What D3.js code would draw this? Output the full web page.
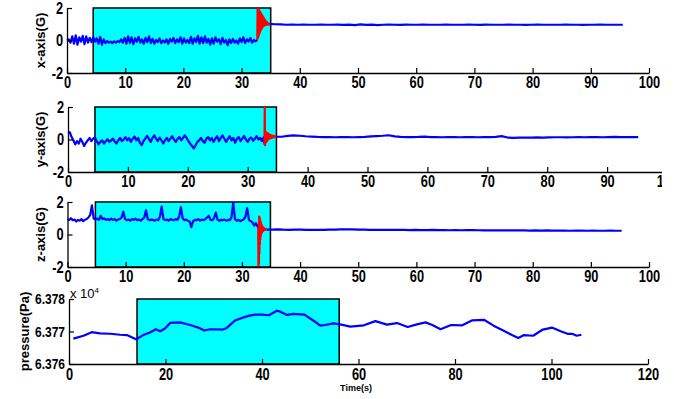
<!DOCTYPE html>
<html>
<head>
<meta charset="utf-8">
<script src="https://cdn.jsdelivr.net/npm/d3@7"></script>
<style>
  body { margin: 0; background: #fff; }
  svg { display: block; font-family: "Liberation Sans", Arial, sans-serif; font-weight: bold; }
</style>
</head>
<body>
<div id="chart"></div>
<script>
  // ---- data ----
  // accelerometer noise, sampled every 0.3 s from t = 0
  var noiseStep = 0.3;
  var xNoise = [
    0.00,0.07,-0.13,0.26,-0.20,0.32,-0.26,0.20,-0.07,0.29,
    -0.23,0.26,-0.13,0.16,-0.10,0.20,-0.07,0.13,-0.20,0.23,
    -0.26,0.07,-0.16,-0.03,-0.13,-0.07,-0.16,-0.05,-0.13,-0.04,
    -0.10,0.07,-0.13,0.16,-0.20,0.26,-0.16,0.20,-0.23,0.13,
    -0.07,0.23,-0.13,0.07,-0.20,0.16,-0.10,0.26,-0.16,0.10,
    -0.20,0.03,-0.10,0.13,-0.16,0.00,-0.13,0.07,-0.20,0.10,
    -0.07,0.16,-0.16,0.07,-0.10,0.20,-0.20,0.13,-0.13,0.03,
    -0.16,0.23,-0.20,0.13,-0.10,0.29,-0.20,0.20,-0.16,0.26,
    -0.13,0.10,-0.26,0.13,-0.20,0.20,-0.07,0.07,-0.23,0.16,
    -0.13,0.03,-0.29,0.07,-0.16,0.10,-0.13,0.00,-0.20,0.13,
    -0.10,0.20,-0.16,0.07,-0.07,0.16,-0.13,0.03,-0.05
  ];
  var yNoise = [
    0.40,0.45,0.15,-0.05,-0.30,-0.10,-0.25,0.05,-0.15,-0.40,
    -0.20,-0.05,0.10,-0.10,0.05,0.12,-0.10,-0.30,-0.15,-0.05,
    -0.25,-0.10,0.02,-0.15,-0.05,0.05,-0.12,-0.25,-0.05,0.10,
    -0.10,0.00,0.15,-0.05,0.08,-0.15,0.05,0.18,-0.05,0.10,
    -0.20,-0.35,-0.10,0.05,0.22,0.05,-0.15,0.10,0.25,0.05,
    -0.10,0.12,-0.05,-0.25,-0.05,0.10,-0.10,0.05,0.20,0.00,
    -0.15,0.05,0.15,-0.05,0.10,0.25,0.10,-0.10,-0.25,-0.40,
    -0.55,-0.35,-0.15,-0.05,0.10,-0.10,-0.20,0.05,0.15,-0.05,
    0.10,-0.15,0.05,0.20,-0.10,0.10,0.25,0.05,-0.15,0.05,
    0.20,-0.05,0.10,-0.20,0.05,0.15,-0.10,0.05,0.22,0.00,
    -0.15,0.05,0.12,-0.08,0.05,0.20,0.00,0.10,-0.10,0.15
  ];
  var zNoise = [
    0.95,0.90,1.00,0.88,0.92,0.80,0.90,0.85,0.95,0.82,
    0.90,0.95,1.05,1.20,1.80,1.00,0.92,0.98,0.90,1.15,
    0.95,1.00,0.90,0.95,0.88,0.98,0.90,0.95,0.85,0.92,
    0.95,1.05,1.40,0.95,0.88,0.92,0.85,0.95,0.90,0.98,
    0.88,0.92,0.85,0.95,1.05,1.50,0.95,0.88,0.92,0.90,
    0.85,0.92,0.88,1.10,1.72,0.95,0.88,0.92,0.85,0.95,
    0.90,0.88,0.95,0.90,1.10,1.68,1.00,0.88,0.92,0.85,
    0.80,0.45,0.82,0.90,0.88,0.95,0.85,0.92,0.88,0.95,
    1.05,1.15,0.90,0.88,1.00,1.35,0.92,0.85,0.90,0.88,
    0.92,0.85,0.90,0.88,1.05,1.95,0.95,0.85,0.90,0.82,
    0.88,0.92,1.10,1.62,0.90,0.82,0.75,0.55,0.70,0.50
  ];

  // the red burst (event), its own start and sample step
  var xBurstStart = 32.7, xBurstStep = 0.05;
  var xBurst = [0.05,1.95,0.15,1.92,0.25,1.88,0.35,1.83,0.45,1.78,0.55,1.72,0.63,1.66,0.70,1.60,0.76,1.54,0.82,1.48,
    0.87,1.42,0.90,1.36,0.92,1.30,0.94,1.25,0.95,1.20,0.96,1.16,0.97,1.12,0.97,1.09,0.98,1.06,0.98,1.04,
    0.99,1.02];
  var yBurstStart = 32.8, yBurstStep = 0.05;
  var yBurst = [-0.30,2.00,-0.35,0.50,-0.20,0.45,-0.15,0.42,-0.10,0.40,-0.05,0.38,0.00,0.35,0.02,0.32,0.05,0.30,0.06,0.28,
    0.08,0.26,0.10,0.25,0.10,0.24,0.12,0.22,0.12,0.22,0.14,0.20,0.15,0.20,0.15,0.19,0.16,0.18,0.17];
  var zBurstStart = 32.8, zBurstStep = 0.04;
  var zBurst = [0.40,-2.00,0.50,-1.80,1.10,-1.20,1.05,-0.60,0.95,-0.30,0.80,-0.10,0.70,0.05,0.60,0.10,0.55,0.15,0.50,0.20,
    0.45,0.22,0.42,0.25,0.40,0.27,0.38,0.28,0.36,0.29,0.34,0.30,0.33,0.30,0.32,0.30];

  // after the event: roughly one sample per second up to the end time
  var xTailEnd = 95.5;
  var xTail = [1.00,0.99,0.97,0.98,0.97,0.98,0.97,0.97,0.98,0.97,0.97,0.98,0.96,0.98,0.95,0.99,0.96,0.98,0.95,0.97,
    0.98,0.97,0.96,0.98,0.97,0.97,0.98,0.97,0.97,0.97,0.98,0.97,0.97,0.97,0.98,0.97,0.96,0.98,0.97,0.97,
    0.97,0.98,0.97,0.97,0.96,0.97,0.98,0.97,0.97,0.97,0.97,0.98,0.97,0.97,0.96,0.97,0.97,0.98,0.97,0.97,0.97,0.97];
  var yTailEnd = 95.2;
  var yTail = [0.17,0.22,0.25,0.23,0.20,0.18,0.16,0.15,0.15,0.14,0.15,0.15,0.14,0.15,0.16,0.19,0.21,0.23,0.26,0.19,
    0.16,0.15,0.15,0.16,0.18,0.15,0.15,0.14,0.15,0.15,0.14,0.15,0.15,0.14,0.15,0.15,0.16,0.21,0.12,0.10,
    0.11,0.12,0.12,0.13,0.12,0.13,0.14,0.14,0.13,0.14,0.15,0.14,0.15,0.15,0.14,0.15,0.16,0.15,0.15,0.15,0.15];
  var zTailEnd = 95.3;
  var zTail = [0.30,0.32,0.30,0.29,0.30,0.30,0.29,0.29,0.28,0.29,0.30,0.30,0.31,0.32,0.31,0.30,0.30,0.29,0.29,0.28,
    0.28,0.29,0.28,0.28,0.27,0.28,0.27,0.27,0.28,0.27,0.27,0.26,0.27,0.26,0.27,0.27,0.26,0.25,0.26,0.25,
    0.25,0.26,0.25,0.25,0.25,0.24,0.25,0.24,0.25,0.24,0.24,0.24,0.23,0.24,0.24,0.23,0.24,0.23,0.23,0.24,0.23,0.23];

  // pressure (Pa)
  var pressureTime = [0.9,3,4.7,6.4,8.5,10.6,12,13.9,15.4,16.8,18,18.9,19.9,21,23,25.1,26.8,28,29.3,31.9,
    32.7,34.4,36.5,37.2,38.6,40,41.4,43.1,43.8,45.2,46.5,48.8,51,52.1,53.1,54.8,56.2,58.3,61.1,63.5,
    65.9,68,70.2,72.1,73.9,75.3,77,79.2,81.5,83.5,86,88,90.5,91.8,93.1,94.3,96.2,98.2,100.1,101.9,
    103.3,104.3,105.2,106.2];
  var pressureVal = [63767.8,63768.7,63769.8,63769.4,63769.3,63769.0,63768.9,63767.6,63768.9,63769.7,
    63770.7,63770.1,63770.9,63772.7,63772.8,63772.0,63771.2,63770.3,63770.7,63770.6,
    63771.1,63773.4,63774.5,63774.8,63775.2,63775.2,63775.0,63776.4,63776.1,63775.1,
    63775.4,63775.2,63773.0,63771.8,63772.0,63772.5,63772.2,63771.5,63771.9,63773.2,
    63772.1,63772.6,63771.4,63772.2,63772.8,63772.0,63770.7,63772.0,63771.9,63773.4,
    63773.6,63771.8,63769.9,63768.9,63768.0,63768.9,63768.7,63770.6,63771.2,63770.1,
    63769.3,63769.3,63768.7,63769.0];

  // highlighted windows [start, end] in seconds
  var xShade = [4.5, 35], yShade = [4.5, 34.8], zShade = [4.8, 34.9], pShade = [14.1, 56];

  var ticks100 = [0,10,20,30,40,50,60,70,80,90,100];
  var ticks120 = [0,20,40,60,80,100,120];
  var ticksG = [-2,0,2];
  var ticksP = [63760,63770,63780];

  // ---- drawing ----
  var W = 674, H = 399;
  var svg = d3.select("#chart").append("svg")
    .attr("width", W)
    .attr("height", H);

  var squeeze = 0.8; // tick text in the picture is horizontally compressed

  function toPts(vals, start, step) {
    return vals.map((v, i) => [start + i * step, v]);
  }

  function accelSeries(noise, bStart, bStep, burst, tailEnd, tail) {
    var blue1 = toPts(noise, 0, noiseStep);
    var red = toPts(burst, bStart, bStep);
    blue1.push(red[0]);
    var last = red[red.length - 1];
    var tStep = (tailEnd - last[0]) / tail.length;
    var blue2 = [last].concat(toPts(tail, last[0] + tStep, tStep));
    return [{pts: blue1, color: "#0000ff"}, {pts: blue2, color: "#0000ff"}, {pts: red, color: "#ff0000"}];
  }

  function drawPanel(cfg) {
    var g = svg.append("g");
    if (cfg.clipX) {
      svg.append("clipPath").attr("id", cfg.id + "-clip")
        .append("rect").attr("x", 0).attr("y", cfg.yRange[1] - 15).attr("width", cfg.clipX).attr("height", 110);
      g.attr("clip-path", "url(#" + cfg.id + "-clip)");
    }

    var x = d3.scaleLinear().domain(cfg.xDomain).range(cfg.xRange);
    var y = d3.scaleLinear().domain(cfg.yDomain).range(cfg.yRange);

    // cyan window
    g.append("rect")
      .attr("x", x(cfg.shade[0]))
      .attr("y", y(cfg.yDomain[1]))
      .attr("width", x(cfg.shade[1]) - x(cfg.shade[0]))
      .attr("height", y(cfg.yDomain[0]) - y(cfg.yDomain[1]))
      .attr("fill", "#00ffff")
      .attr("stroke", "#000")
      .attr("stroke-width", 1.5);

    var line = d3.line().x(d => x(d[0])).y(d => y(d[1]));
    cfg.series.forEach(s => {
      g.append("path")
        .attr("d", line(s.pts))
        .attr("fill", "none")
        .attr("stroke", s.color)
        .attr("stroke-width", 2.2)
        .attr("stroke-linejoin", "round");
    });

    var xAxis = d3.axisBottom(x).tickValues(cfg.xTicks).tickSizeInner(-5).tickSizeOuter(0).tickPadding(cfg.xPad || 4);
    var yAxis = d3.axisLeft(y).tickValues(cfg.yTicks).tickSizeInner(-5).tickSizeOuter(0).tickPadding(4)
      .tickFormat(cfg.yFormat || (d => d));

    var gx = g.append("g").attr("transform", "translate(0," + cfg.yRange[0] + ")").call(xAxis);
    var gy = g.append("g").attr("transform", "translate(" + cfg.xRange[0] + ",0)").call(yAxis);

    [gx, gy].forEach(a => {
      a.attr("font-family", null).attr("font-size", null);
      a.select(".domain").attr("stroke", "#000").attr("stroke-width", 1.3);
      a.selectAll(".tick line").attr("stroke", "#000").attr("stroke-width", 1.2);
      a.selectAll(".tick text").attr("fill", "#000").style("font-size", cfg.yFont || "16px");
    });
    gx.selectAll(".tick text").style("font-size", "16px").attr("transform", "scale(" + squeeze + ",1)");
    gy.selectAll(".tick text").attr("x", -4 / squeeze).attr("transform", "scale(" + squeeze + ",1)");

    g.append("text")
      .attr("transform", "translate(" + cfg.labelX + "," + ((cfg.yRange[0] + cfg.yRange[1]) / 2) + ") rotate(-90)")
      .attr("text-anchor", "middle")
      .style("font-size", "13px")
      .text(cfg.label);

    return {g: g, x: x, y: y};
  }

  drawPanel({
    id: "p1", xRange: [67, 649], yRange: [73, 8], xDomain: [0, 100], yDomain: [-2, 2],
    xTicks: ticks100, yTicks: ticksG, shade: xShade, label: "x-axis(G)", labelX: 45,
    series: accelSeries(xNoise, xBurstStart, xBurstStep, xBurst, xTailEnd, xTail)
  });

  drawPanel({
    id: "p2", xRange: [68, 667], yRange: [172, 107], xDomain: [0, 100], yDomain: [-2, 2],
    xTicks: ticks100, yTicks: ticksG, shade: yShade, label: "y-axis(G)", labelX: 45, clipX: 662,
    series: accelSeries(yNoise, yBurstStart, yBurstStep, yBurst, yTailEnd, yTail)
  });

  drawPanel({
    id: "p3", xRange: [67.5, 649], yRange: [267, 202], xDomain: [0, 100], yDomain: [-2, 2],
    xTicks: ticks100, yTicks: ticksG, shade: zShade, label: "z-axis(G)", labelX: 45,
    series: accelSeries(zNoise, zBurstStart, zBurstStep, zBurst, zTailEnd, zTail)
  });

  drawPanel({
    id: "p4", xRange: [69, 648], yRange: [364, 299], xDomain: [0, 120], yDomain: [63760, 63780],
    xTicks: ticks120, yTicks: ticksP, shade: pShade, label: "pressure(Pa)", labelX: 29, xPad: 5,
    yFont: "15px",
    yFormat: d => (d / 1e4).toFixed(3),
    series: [{pts: pressureTime.map((t, i) => [t, pressureVal[i]]), color: "#0000ff"}]
  });

  // exponent note and x label
  var expo = svg.append("text")
    .attr("x", 70)
    .attr("y", 298)
    .style("font-size", "13px")
    .style("font-weight", "normal");
  expo.append("tspan").text("x 10");
  expo.append("tspan").attr("dy", -5).style("font-size", "8px").text("4");

  svg.append("text")
    .attr("x", 356)
    .attr("y", 391)
    .attr("text-anchor", "middle")
    .style("font-size", "9px")
    .text("Time(s)");
</script>
</body>
</html>
